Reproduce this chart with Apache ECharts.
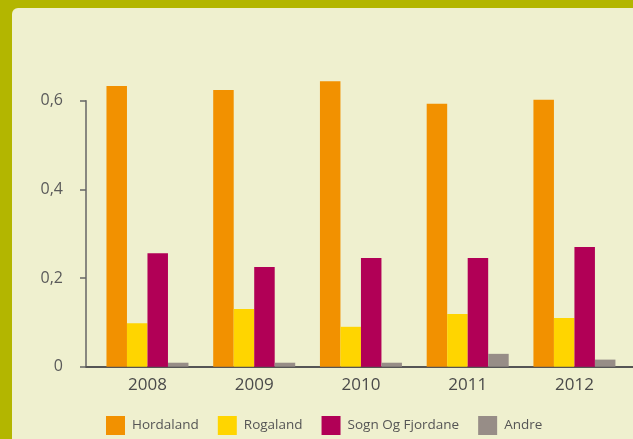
<!DOCTYPE html>
<html><head><meta charset="utf-8">
<script src="https://cdn.jsdelivr.net/npm/echarts@6/dist/echarts.min.js"></script>
<style>
html,body{margin:0;padding:0;width:633px;height:439px;background:#b3b600;overflow:hidden}
#panel{position:absolute;left:12px;top:8px;width:640px;height:450px;background:#eff0cf;border-top-left-radius:6px}
#chart{position:absolute;left:0;top:0;width:633px;height:439px}
</style></head>
<body><div id="panel"></div><div id="chart"></div>
<script>
const categories = ['2008','2009','2010','2011','2012'];
const hordaland = [0.633, 0.624, 0.644, 0.593, 0.602];
const rogaland = [0.098, 0.130, 0.090, 0.119, 0.110];
const sognOgFjordane = [0.256, 0.225, 0.245, 0.245, 0.270];
const andre = [0.009, 0.009, 0.009, 0.029, 0.016];
const yTicks = [0, 0.2, 0.4, 0.6];

const font = '"Open Sans", Lato, sans-serif';
const chart = echarts.init(document.getElementById('chart'), null, {renderer:'canvas'});
function bar(name, data, color){
  return {name, type:'bar', data, xAxisIndex:1, yAxisIndex:1, barWidth:20.5, barGap:'0%', clip:false,
    itemStyle:{color}, emphasis:{disabled:true}};
}
chart.setOption({
  animation:false,
  backgroundColor:'transparent',
  textStyle:{fontFamily:font},
  grid:[
    {left:86, right:0, top:100.7, bottom:72.3},
    {left:94.1, right:5.2, top:100.7, bottom:72.3}
  ],
  xAxis:[
    {gridIndex:0, type:'category', data:categories, axisLine:{lineStyle:{color:'#555', width:2}},
      axisTick:{show:false}, axisLabel:{show:false}},
    {gridIndex:1, type:'category', data:categories, axisLine:{show:false}, axisTick:{show:false},
      axisLabel:{color:'#4a4a4a', fontSize:17, margin:10, fontFamily:font}}
  ],
  yAxis:[
    {gridIndex:0, type:'value', min:0, max:0.6, interval:0.2, splitLine:{show:false},
      axisLine:{show:true, lineStyle:{color:'#666', width:1.5}},
      axisTick:{show:true, length:6, lineStyle:{color:'#666', width:1.5}},
      axisLabel:{color:'#5a5a5a', fontSize:16, margin:23, fontFamily:font,
        formatter:v => yTicks.includes(Math.round(v*10)/10) ? String(Math.round(v*10)/10).replace('.', ',') : ''}},
    {gridIndex:1, type:'value', min:0, max:0.6, interval:0.2, show:false, splitLine:{show:false}}
  ],
  legend:{bottom:4, left:106, padding:0, itemWidth:19, itemHeight:19, itemGap:19, icon:'rect',
    textStyle:{color:'#555', fontSize:13.5, fontFamily:font, padding:[0,0,0,2]},
    data:['Hordaland','Rogaland','Sogn Og Fjordane','Andre']},
  series:[
    bar('Hordaland', hordaland, '#f29100'),
    bar('Rogaland', rogaland, '#ffd500'),
    bar('Sogn Og Fjordane', sognOgFjordane, '#b10056'),
    bar('Andre', andre, '#978d87')
  ]
});
</script></body></html>
